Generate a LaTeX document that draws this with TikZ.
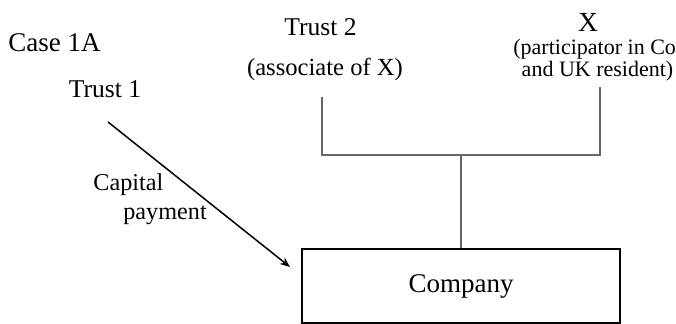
\documentclass[tikz,border=0pt]{standalone}
\usepackage{fontspec}
\setmainfont{Liberation Serif}
\usepackage{xcolor}
\usepackage{tikz}
\usetikzlibrary{positioning,calc,arrows.meta}

\tikzset{
  party/.style={anchor=base, inner sep=0pt, font=\fontsize{12.8}{14}\selectfont},
  note/.style={anchor=base, inner sep=0pt, font=\fontsize{11}{13}\selectfont},
  tree/.style={draw=gray!80!black, line width=0.75pt},
  pay/.style={draw=black, line width=0.75pt, -{Stealth[length=5pt,width=4pt]}},
  cobox/.style={draw=black, line width=1pt, minimum width=159pt, minimum height=37pt,
    font=\fontsize{13.5}{15}\selectfont}
}

\begin{document}
\begin{tikzpicture}[x=0.5pt, y=-0.5pt]
  \useasboundingbox (0,0) rectangle (676,324);

  % Heading
  \node[party, anchor=base west, font=\fontsize{13.5}{15}\selectfont] (case) at (8,52) {Case 1A};

  % Parties
  \node[party] (trustone) at (105,98) {Trust 1};
  \node[party] (trusttwo) at (320.5,36) {Trust 2};
  \node[party, font=\fontsize{12.3}{14}\selectfont] (assoc) at (325,76) {(associate of X)};
  \node[party, font=\fontsize{13.8}{15}\selectfont] (xpers) at (588,32) {X};
  \node[note, anchor=base west] (partic) at (513,55) {(participator in Co};
  \node[note] (ukres) at (597.5,77) {and UK resident)};

  % Company
  \node[cobox] (company) at (461,286) {Company};

  % Holding lines
  \coordinate (ttfoot) at (322,97);
  \coordinate (xfoot) at (600,87);
  \coordinate (ttbend) at (322,155);
  \coordinate (xbend) at (600,155);
  \coordinate (join) at (461,155);
  \draw[tree] (ttfoot) -- (ttbend) -- (xbend) -- (xfoot);
  \draw[tree] (join) -- (company.north);

  % Capital payment
  \coordinate (payfrom) at (108,122);
  \coordinate (payto) at (290,267);
  \draw[pay] (payfrom) -- (payto);
  \node[party, anchor=base west, font=\fontsize{12.1}{14}\selectfont] (capital) at (93,191) {Capital};
  \node[party, anchor=base west, font=\fontsize{12.1}{14}\selectfont] (payment) at (123,220) {payment};
\end{tikzpicture}
\end{document}
